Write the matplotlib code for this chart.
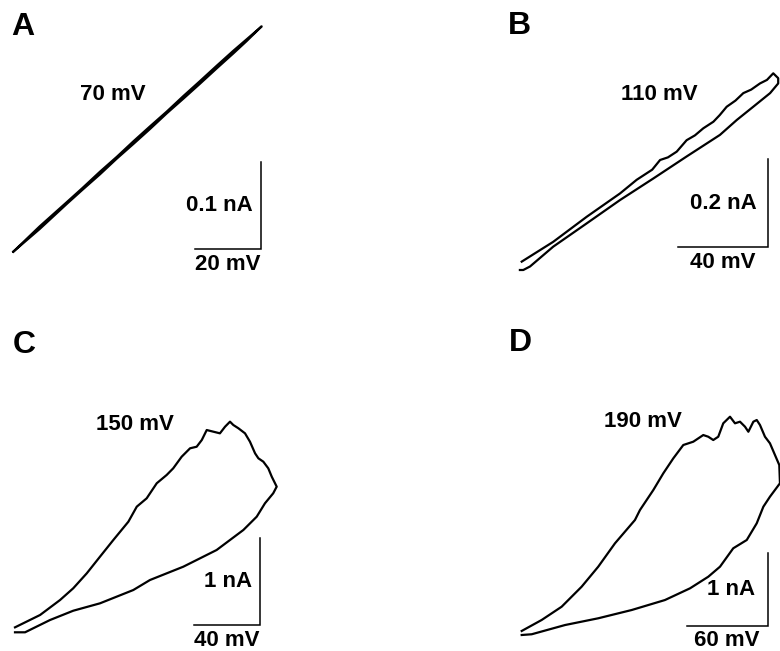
import matplotlib.pyplot as plt

plt.rcParams['font.family'] = ['Liberation Sans', 'DejaVu Sans']

W, H = 780, 651

# I-V loops: voltage in mV, current in nA
# A: 70 mV ramp (the two branches almost overlap)
a_v_up = [0, 8, 16.3, 21, 26.4, 31.5, 36.6, 41.6, 46.7, 51.8, 56.8, 62, 67, 71, 75.6]
a_i_up = [0, 0.026, 0.055, 0.071, 0.089, 0.107, 0.124, 0.141, 0.159, 0.176, 0.193, 0.211, 0.228, 0.242, 0.259]
a_v_dn = [75.6, 71, 67, 62, 56.8, 51.8, 46.7, 41.6, 36.6, 31.5, 26.4, 21, 16.3, 8, 0]
a_i_dn = [0.259, 0.244, 0.231, 0.214, 0.196, 0.179, 0.161, 0.144, 0.127, 0.109, 0.092, 0.073, 0.057, 0.029, 0.0]

# B: 110 mV ramp
b_v_up = [0, 14.0, 28.9, 43.7, 51.1, 58.0, 61.5, 65.0, 68.9, 73.3, 77.0, 80.7, 85.2, 88.0, 91.1, 95.0,
          98.5, 102.0, 105.9, 109.0, 111.8, 114.0]
b_i_up = [0.019, 0.064, 0.121, 0.174, 0.205, 0.228, 0.250, 0.256, 0.269, 0.295, 0.306, 0.322, 0.337, 0.352,
          0.371, 0.385, 0.402, 0.410, 0.424, 0.432, 0.447, 0.436]
b_v_dn = [114.0, 110.4, 102.9, 95.6, 88.1, 73.3, 58.5, 43.7, 28.9, 14.0, 3.7, 0.7, -0.8]
b_i_dn = [0.424, 0.402, 0.371, 0.341, 0.307, 0.258, 0.208, 0.159, 0.106, 0.053, 0.008, 0.0, 0.0]

# C: 150 mV ramp
c_v_up = [0, 15.2, 27.3, 35.3, 43.5, 51.5, 59.6, 68.7, 73.8, 79.8, 85.9, 91.9, 95.9, 101.0, 106.1,
          110.1, 113.2, 116.2, 120.2, 124.2, 127.3, 130.3, 132.3, 135.4, 139.4, 142.4, 145.5, 147.5,
          150.5, 153.5, 155.6, 158.6]
c_i_up = [0.057, 0.199, 0.371, 0.506, 0.678, 0.869, 1.061, 1.271, 1.444, 1.540, 1.713, 1.808, 1.885,
          2.018, 2.115, 2.133, 2.210, 2.325, 2.306, 2.287, 2.363, 2.421, 2.383, 2.345, 2.287, 2.191,
          2.057, 2.000, 1.961, 1.885, 1.789, 1.674]
c_v_dn = [156.5, 151.5, 146.5, 138.4, 122.2, 102.0, 81.8, 71.7, 51.5, 35.3, 21.2, 6.1, 0]
c_i_dn = [1.598, 1.483, 1.329, 1.176, 0.946, 0.754, 0.601, 0.486, 0.333, 0.248, 0.141, 0.0, 0.0]

# D: 190 mV ramp
d_v_up = [0, 14.8, 29.6, 44.4, 56.7, 69.1, 83.9, 87.6, 97.5, 104.9, 112.3, 119.7, 127.1, 134.5, 138.2,
          141.9, 145.6, 149.3, 154.3, 158.0, 161.7, 165.4, 167.9, 171.6, 174.1, 176.5, 180.2, 183.9,
          187.6, 190.8]
d_i_up = [0.055, 0.205, 0.386, 0.659, 0.932, 1.251, 1.569, 1.705, 1.978, 2.206, 2.410, 2.592, 2.637, 2.728,
          2.705, 2.660, 2.705, 2.888, 2.978, 2.888, 2.910, 2.842, 2.773, 2.910, 2.933, 2.865, 2.705,
          2.615, 2.456, 2.319]
d_v_dn = [191.3, 183.9, 179.0, 174.1, 166.7, 156.7, 146.9, 138.2, 124.7, 106.1, 81.5, 56.7, 32.1, 7.4, 0]
d_i_dn = [2.070, 1.887, 1.750, 1.524, 1.296, 1.183, 0.932, 0.795, 0.637, 0.477, 0.341, 0.228, 0.136,
          0.010, 0.0]

letters = ['A', 'B', 'C', 'D']
ramps = ['70 mV', '110 mV', '150 mV', '190 mV']
bar_v = [20, 40, 40, 60]          # mV
bar_i = [0.1, 0.2, 1, 1]          # nA
bar_i_lbl = ['0.1 nA', '0.2 nA', '1 nA', '1 nA']
traces = [(a_v_up, a_i_up, a_v_dn, a_i_dn), (b_v_up, b_i_up, b_v_dn, b_i_dn),
          (c_v_up, c_i_up, c_v_dn, c_i_dn), (d_v_up, d_i_up, d_v_dn, d_i_dn)]

# layout in pixels: panel box, trace origin, px per mV / nA, bar corner, text spots
boxes = [(0, 0, 390, 300), (390, 0, 780, 300), (0, 300, 390, 651), (390, 300, 780, 651)]
origins = [(13.3, 251.7), (521.7, 270), (15, 632.3), (521.7, 635)]
scales = [(3.285, 870), (2.25, 440), (1.65, 87), (1.35, 73.3)]
corners = [(260.7, 249.3), (767.7, 247.3), (260, 625), (767.7, 626)]
letter_xy = [(23, 27), (519, 26), (24, 345), (520, 343)]
ramp_xy = [(112.5, 94), (659, 94), (135, 425), (643, 421.7)]
ilbl_gap = [8, 11, 8, 12.5]

fig = plt.figure(figsize=(W / 100, H / 100), dpi=100)


def ftext(x, y, s, **kw):
    fig.text(x / W, 1 - y / H, s, fontweight='bold', **kw)


for k in range(4):
    bx0, by0, bx1, by1 = boxes[k]
    ox, oy = origins[k]
    sx, sy = scales[k]
    ax = fig.add_axes([bx0 / W, 1 - by1 / H, (bx1 - bx0) / W, (by1 - by0) / H])
    ax.set_xlim((bx0 - ox) / sx, (bx1 - ox) / sx)
    ax.set_ylim((oy - by1) / sy, (oy - by0) / sy)
    ax.axis('off')

    vu, iu, vd, idn = traces[k]
    ax.plot(vu + vd, iu + idn, color='black', lw=1.6, clip_on=False)

    # scale bars
    cx, cy = corners[k]
    cv = (cx - ox) / sx
    ci = (oy - cy) / sy
    ax.plot([cv - bar_v[k], cv, cv], [ci, ci, ci + bar_i[k]], color='black', lw=1.1,
            solid_joinstyle='miter')

    ftext(letter_xy[k][0], letter_xy[k][1], letters[k], fontsize=23, ha='center', va='center')
    ftext(ramp_xy[k][0], ramp_xy[k][1], ramps[k], fontsize=16, ha='center', va='center')
    bar_len_px = bar_v[k] * sx
    bar_h_px = bar_i[k] * sy
    ftext(cx - ilbl_gap[k], cy - bar_h_px / 2, bar_i_lbl[k], fontsize=16, ha='right', va='center')
    ftext(cx - bar_len_px / 2, cy + 15, f'{bar_v[k]} mV', fontsize=16, ha='center', va='center')

fig.savefig('out.png', dpi=100, facecolor='white')
